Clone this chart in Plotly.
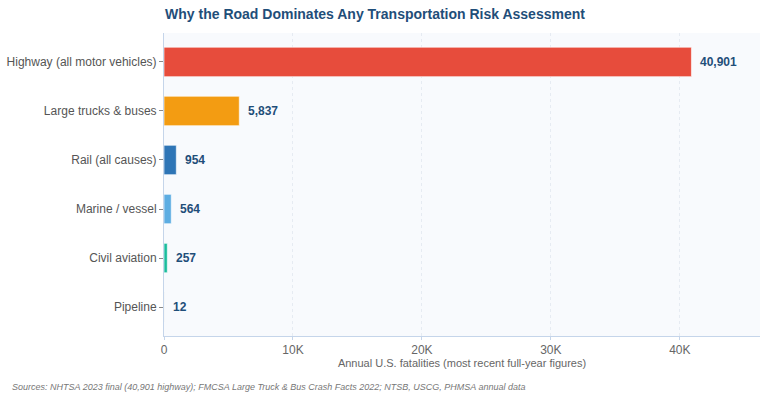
import plotly.graph_objects as go

categories = ["Highway (all motor vehicles)", "Large trucks & buses", "Rail (all causes)",
              "Marine / vessel", "Civil aviation", "Pipeline"]
fatalities = [40901, 5837, 954, 564, 257, 12]
colors = ["#E74C3C", "#F39C12", "#2E75B6", "#5DADE2", "#1ABC9C", "#95A5A6"]
labels = [f"{v:,}" for v in fatalities]
x_ticks = [0, 10000, 20000, 30000, 40000]
x_tick_text = ["0", "10K", "20K", "30K", "40K"]

L, R, T, B = 164, 7, 33, 64
W, H = 767, 400
pw, ph = W - L - R, H - T - B

fig = go.Figure(go.Bar(
    x=fatalities, y=categories, orientation="h",
    marker=dict(color=colors, line=dict(color="rgba(255,255,255,0.6)", width=1)),
    width=0.6,
    hoverinfo="skip",
))

annotations = [dict(x=v, y=c, text=f"<b>{t}</b>", xref="x", yref="y", xanchor="left", yanchor="middle",
                    xshift=7, showarrow=False,
                    font=dict(family="Liberation Sans, Arial, sans-serif", size=12, color="#1F4E79"))
               for v, c, t in zip(fatalities, categories, labels)]

annotations.append(dict(
    text="<i>Sources: NHTSA 2023 final (40,901 highway); FMCSA Large Truck &amp; Bus Crash Facts 2022; NTSB, USCG, PHMSA annual data</i>",
    xref="paper", yref="paper", x=(10 - L)/pw, y=(H - B - 387)/ph,
    xanchor="left", yanchor="middle", showarrow=False,
    font=dict(size=9, color="#777777")))

fig.update_layout(
    width=W, height=H,
    margin=dict(l=L, r=R, t=T, b=B),
    paper_bgcolor="white", plot_bgcolor="#F8FAFD",
    font=dict(family="Liberation Sans, Arial, sans-serif", color="#555555"),
    title=dict(text="<b>Why the Road Dominates Any Transportation Risk Assessment</b>",
               x=375/W, xanchor="center", xref="container", y=1-14/H, yanchor="middle", yref="container",
               font=dict(size=14, color="#1F4E79")),
    showlegend=False,
    xaxis=dict(range=[0, 40901*1.13], tickvals=x_ticks, ticktext=x_tick_text,
               showgrid=True, gridcolor="#E6EBF2", griddash="dot", gridwidth=1,
               showline=True, linecolor="#C5D5EA", linewidth=1,
               ticks="outside", tickcolor="#C5D5EA", ticklen=3,
               tickfont=dict(size=12, color="#666666"), zeroline=False,
               title=dict(text="Annual U.S. fatalities (most recent full-year figures)",
                          font=dict(size=11, color="#666666"), standoff=0)),
    yaxis=dict(categoryorder="array", categoryarray=categories, range=[5.59, -0.59],
               showline=True, linecolor="#C5D5EA", linewidth=1,
               ticks="outside", tickcolor="#888888", ticklen=4,
               tickfont=dict(size=12, color="#555555"), showgrid=False),
    annotations=annotations,
)

fig.write_html("out.html")
